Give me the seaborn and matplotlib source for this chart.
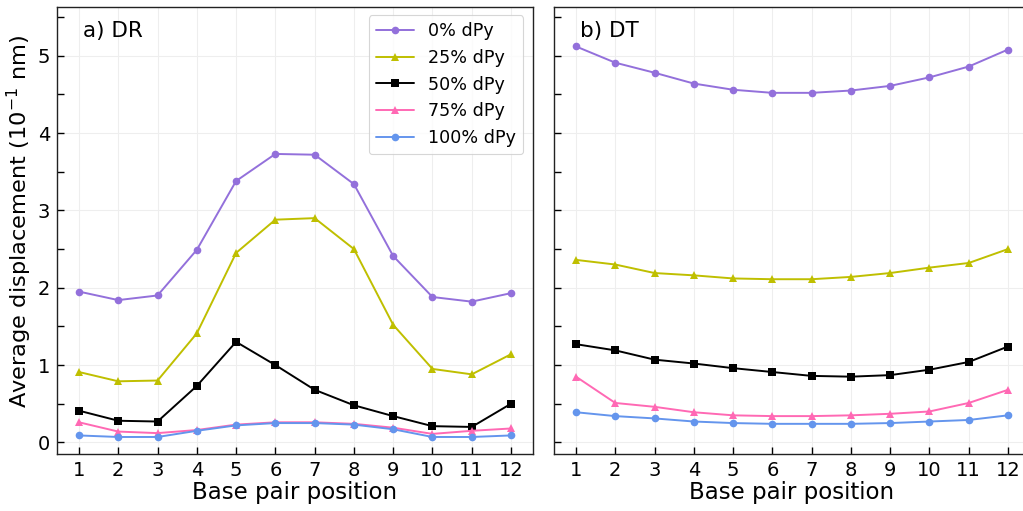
import numpy as np
import pandas as pd
import matplotlib
matplotlib.use("Agg")
import matplotlib.pyplot as plt
from matplotlib.ticker import MultipleLocator
import seaborn as sns

positions = list(range(1, 13))
series_labels = ["0% dPy", "25% dPy", "50% dPy", "75% dPy", "100% dPy"]

# Panel a) DR
dr_0 = [1.95, 1.84, 1.90, 2.49, 3.38, 3.73, 3.72, 3.34, 2.41, 1.88, 1.82, 1.93]
dr_25 = [0.91, 0.79, 0.80, 1.41, 2.45, 2.88, 2.90, 2.50, 1.52, 0.95, 0.88, 1.14]
dr_50 = [0.41, 0.28, 0.27, 0.73, 1.30, 1.00, 0.68, 0.48, 0.34, 0.21, 0.20, 0.50]
dr_75 = [0.26, 0.14, 0.12, 0.16, 0.23, 0.26, 0.26, 0.24, 0.19, 0.11, 0.15, 0.18]
dr_100 = [0.09, 0.07, 0.07, 0.15, 0.22, 0.25, 0.25, 0.23, 0.17, 0.07, 0.07, 0.09]

# Panel b) DT
dt_0 = [5.12, 4.91, 4.78, 4.64, 4.56, 4.52, 4.52, 4.55, 4.61, 4.72, 4.86, 5.08]
dt_25 = [2.36, 2.30, 2.19, 2.16, 2.12, 2.11, 2.11, 2.14, 2.19, 2.26, 2.32, 2.50]
dt_50 = [1.27, 1.19, 1.07, 1.02, 0.96, 0.91, 0.86, 0.85, 0.87, 0.94, 1.04, 1.24]
dt_75 = [0.85, 0.51, 0.46, 0.39, 0.35, 0.34, 0.34, 0.35, 0.37, 0.40, 0.51, 0.68]
dt_100 = [0.39, 0.34, 0.31, 0.27, 0.25, 0.24, 0.24, 0.24, 0.25, 0.27, 0.29, 0.35]

colors = ["#9370DB", "#BFBF00", "#000000", "#FF69B4", "#6495ED"]
markers = ["o", "^", "s", "^", "o"]

def long_frame(values):
    rows = []
    for label, vals in zip(series_labels, values):
        for p, v in zip(positions, vals):
            rows.append({"position": p, "value": v, "series": label})
    return pd.DataFrame(rows)

df_dr = long_frame([dr_0, dr_25, dr_50, dr_75, dr_100])
df_dt = long_frame([dt_0, dt_25, dt_50, dt_75, dt_100])

sns.set_theme(style="white")
plt.rcParams["font.family"] = ["DejaVu Sans"]
plt.rcParams["text.color"] = "black"
plt.rcParams["axes.labelcolor"] = "black"
plt.rcParams["xtick.color"] = "black"
plt.rcParams["ytick.color"] = "black"

W, H = 1023, 511
fig = plt.figure(figsize=(W / 100, H / 100), dpi=100)
ax_bottom = (H - 454) / H
ax_height = (454 - 7) / H
ax_a = fig.add_axes([57 / W, ax_bottom, 476 / W, ax_height])
ax_b = fig.add_axes([554 / W, ax_bottom, 476 / W, ax_height], sharey=ax_a)

palette = dict(zip(series_labels, colors))
marker_map = dict(zip(series_labels, markers))

for ax, df, title in [(ax_a, df_dr, "a) DR"), (ax_b, df_dt, "b) DT")]:
    sns.lineplot(data=df, x="position", y="value", hue="series", style="series",
                 palette=palette, markers=marker_map, dashes=False,
                 hue_order=series_labels, style_order=series_labels,
                 markersize=5.5, markeredgewidth=0, linewidth=1.4, ax=ax,
                 legend=(ax is ax_a))
    ax.set_xlim(0.44, 12.56)
    ax.set_ylim(-0.15, 5.63)
    ax.set_xticks(positions)
    ax.yaxis.set_major_locator(MultipleLocator(1))
    ax.yaxis.set_minor_locator(MultipleLocator(0.5))
    ax.grid(True, which="major", color="#eeeeee", linewidth=0.8)
    ax.tick_params(axis="both", which="major", direction="in", length=5,
                   width=1, labelsize=14, bottom=True, left=True, pad=5)
    ax.tick_params(axis="y", which="minor", direction="in", length=5,
                   width=1, left=True)
    for s in ax.spines.values():
        s.set_color("#222222")
        s.set_linewidth(1.0)
    ax.set_xlabel("Base pair position", fontsize=16.5, labelpad=1)
    ax.set_ylabel("")
    ax.text(26 / 476, 1 - 14 / 447, title, transform=ax.transAxes,
            fontsize=15.5, va="top", ha="left")

ax_b.tick_params(axis="y", which="both", labelleft=False)
ax_a.set_ylabel("Average displacement ($10^{-1}$ nm)", fontsize=16.2)
ax_a.yaxis.set_label_coords(-0.048, 0.52)

leg = ax_a.legend(loc="upper right", fontsize=12.6, frameon=True,
                  borderpad=0.4, labelspacing=0.5, handlelength=2.2,
                  handletextpad=0.8, borderaxespad=0,
                  bbox_to_anchor=(466 / 476, 1 - 8 / 447))
leg.get_frame().set_edgecolor("#cccccc")
leg.get_frame().set_linewidth(0.8)

fig.savefig("out.png", dpi=100)
